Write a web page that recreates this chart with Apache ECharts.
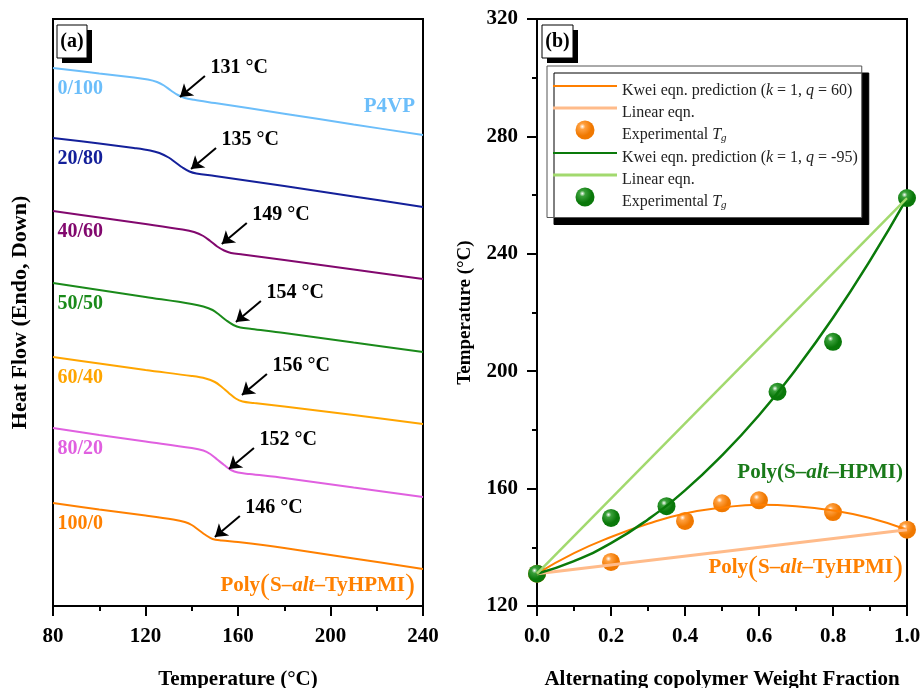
<!DOCTYPE html>
<html>
<head>
<meta charset="utf-8">
<script src="https://cdn.jsdelivr.net/npm/echarts@6/dist/echarts.min.js"></script>
<style>html,body{margin:0;padding:0;background:#fff}#main{width:922px;height:688px}</style>
</head>
<body>
<div id="main"></div>
<script>
// ---- panel (a): DSC traces, temperature (°C) vs heat flow (a.u.) ----
var t_0_100  = [80,100,115,121,125,128,131,134,137,141,150,180,210,240];
var hf_0_100 = [53.8,53.25,52.85,52.65,52.4,52.05,51.55,51.1,50.8,50.62,50.3,49.23,48.15,47.1];
var t_20_80  = [80,100,115,122,126,130,133,136,139,142,150,180,210,240];
var hf_20_80 = [46.8,46.25,45.8,45.55,45.3,44.85,44.35,43.85,43.45,43.25,43.0,42.0,40.95,39.9];
var t_40_60  = [80,100,120,136,141,145,148,151,154,157,162,180,210,240];
var hf_40_60 = [39.5,38.85,38.2,37.65,37.4,37.0,36.5,35.95,35.55,35.3,35.15,34.6,33.65,32.7];
var t_50_50  = [80,100,120,140,145,149,152,155,158,161,166,180,210,240];
var hf_50_50 = [32.3,31.6,30.9,30.2,29.95,29.6,29.1,28.55,28.1,27.85,27.7,27.3,26.35,25.4];
var t_60_40  = [80,100,120,140,146,150,153,156,159,162,167,180,210,240];
var hf_60_40 = [24.9,24.25,23.6,23.0,22.75,22.4,21.9,21.3,20.75,20.45,20.3,19.95,19.1,18.2];
var t_80_20  = [80,100,120,140,145,148,151,154,157,160,165,180,210,240];
var hf_80_20 = [17.8,17.1,16.45,15.8,15.55,15.2,14.65,14.1,13.6,13.35,13.2,12.8,11.85,10.9];
var t_100_0  = [80,100,120,132,137,140,143,146,149,153,160,180,210,240];
var hf_100_0 = [10.3,9.65,9.05,8.65,8.4,8.1,7.6,7.1,6.7,6.55,6.4,5.8,4.75,3.7];

var compLabels = ['0/100','20/80','40/60','50/50','60/40','80/20','100/0'];
var tgValues   = [131,135,149,154,156,152,146];
var arrowTipT  = [134.9,139.7,153,159.1,161.7,156.1,150];
var arrowTipHF = [50.9,43.7,36.2,28.4,21.1,13.7,6.9];

// ---- panel (b): Tg vs weight fraction ----
var wFrac      = [0,0.1,0.2,0.3,0.4,0.5,0.6,0.7,0.8,0.9,1.0];
var kweiOrange = [131,138,143.5,148,151.5,153.5,154.5,154,152.5,150,146];
var kweiGreen  = [131,135.3,141.4,149.5,159.4,171.3,185,200.7,218.2,237.7,259];
var linFrac    = [0,1];
var linOrange  = [131,146];
var linGreen   = [131,259];
var expFracOrange = [0,0.2,0.4,0.5,0.6,0.8,1.0];
var expOrange     = [131,135,149,155,156,152,146];
var expFracGreen  = [0,0.2,0.35,0.65,0.8,1.0];
var expGreen      = [131,150,154,193,210,259];

var legendNames = ['kweiO','linO','expO','kweiG','linG','expG'];
var legendTexts = [
  '{n|Kwei eqn. prediction (}{i|k}{n| = 1, }{i|q}{n| = 60)}',
  '{n|Linear eqn.}',
  '{n|Experimental }{i|T}{s|g}',
  '{n|Kwei eqn. prediction (}{i|k}{n| = 1, }{i|q}{n| = -95)}',
  '{n|Linear eqn.}',
  '{n|Experimental }{i|T}{s|g}'
];

var FONT = '"Liberation Serif", "Times New Roman", serif';
var curveColors = ['#6CBEFA','#14209A','#82086E','#1A8A1A','#FFA500','#E060E0','#FF8000'];
var ARROW_DT = 10.8, ARROW_DH = 2.1;

function zip(xs, ys){ return xs.map(function(x,i){ return [x, ys[i]]; }); }
function ball(c1, c2){
  return new echarts.graphic.RadialGradient(0.36, 0.32, 0.7, [
    {offset:0, color:'#ffffff'}, {offset:0.22, color:c1}, {offset:0.7, color:c2}, {offset:1, color:c2}
  ]);
}

var myChart = echarts.init(document.getElementById('main'));
var seriesList = [];

compLabels.forEach(function(name, i){
  var data = zip([t_0_100,t_20_80,t_40_60,t_50_50,t_60_40,t_80_20,t_100_0][i],
                 [hf_0_100,hf_20_80,hf_40_60,hf_50_50,hf_60_40,hf_80_20,hf_100_0][i]);
  var tail = [arrowTipT[i] + ARROW_DT, arrowTipHF[i] + ARROW_DH];
  seriesList.push({
    name: name, type: 'line', xAxisIndex: 0, yAxisIndex: 0,
    smooth: 0.35, symbol: 'none', data: data,
    lineStyle: {color: curveColors[i], width: 2},
    markLine: {
      silent: true, symbol: ['none','arrow'], symbolSize: 12,
      lineStyle: {color:'#000', width: 2, type: 'solid'},
      itemStyle: {color: '#000'},
      label: {show: false},
      data: [[{coord: tail}, {coord: [arrowTipT[i], arrowTipHF[i]]}]]
    },
    markPoint: {
      silent: true, symbol: 'circle', symbolSize: 1,
      itemStyle: {color: 'rgba(0,0,0,0)'},
      data: [
        {coord: tail, label: {show: true, position: 'right', distance: 5, offset: [0,-8],
          formatter: tgValues[i] + ' °C', color: '#000', fontSize: 20, fontWeight: 'bold', fontFamily: FONT}},
        {coord: [80, data[0][1]], label: {show: true, position: 'right', distance: 4, offset: [0,21],
          formatter: name, color: curveColors[i], fontSize: 20, fontWeight: 'bold', fontFamily: FONT}}
      ]
    }
  });
});

seriesList.push(
  {name: legendNames[0], type:'line', xAxisIndex:1, yAxisIndex:1, smooth:true, symbol:'none',
   data: zip(wFrac, kweiOrange), lineStyle:{color:'#FF7F00', width:2}, itemStyle:{color:'#FF7F00'}},
  {name: legendNames[1], type:'line', xAxisIndex:1, yAxisIndex:1, symbol:'none',
   data: zip(linFrac, linOrange), lineStyle:{color:'#FFBB8A', width:3}, itemStyle:{color:'#FFBB8A'}},
  {name: legendNames[2], type:'scatter', xAxisIndex:1, yAxisIndex:1, symbol:'circle', symbolSize:18,
   data: zip(expFracOrange, expOrange), itemStyle:{color: ball('#FFA040','#F07800'), opacity:1}},
  {name: legendNames[3], type:'line', xAxisIndex:1, yAxisIndex:1, smooth:true, symbol:'none',
   data: zip(wFrac, kweiGreen), lineStyle:{color:'#0A7A0A', width:2.5}, itemStyle:{color:'#0A7A0A'}},
  {name: legendNames[4], type:'line', xAxisIndex:1, yAxisIndex:1, symbol:'none',
   data: zip(linFrac, linGreen), lineStyle:{color:'#A2D96E', width:2.5}, itemStyle:{color:'#A2D96E'}},
  {name: legendNames[5], type:'scatter', xAxisIndex:1, yAxisIndex:1, symbol:'circle', symbolSize:18,
   data: zip(expFracGreen, expGreen), itemStyle:{color: ball('#3AA03A','#0A780A'), opacity:1}}
);

var axisLine = {show: true, onZero: false, lineStyle: {color:'#000', width: 2}};
var tickLabel = {color:'#000', fontSize: 21, fontWeight:'bold', fontFamily: FONT};
var nameStyle = {color:'#000', fontSize: 21, fontWeight:'bold', fontFamily: FONT};
// thin bar centred in a full 64x19 box, so every legend row has the same height
var lineIcon2 = 'path://M0,0L0.01,0M0,8.5H64V10.5H0ZM64,19L63.99,19';
var lineIcon3 = 'path://M0,0L0.01,0M0,8H64V11H0ZM64,19L63.99,19';

myChart.setOption({
  backgroundColor: '#fff',
  animation: false,
  grid: [
    {left: 53, top: 19, width: 370, height: 587, show: true, borderColor:'#000', borderWidth: 2, outerBoundsMode: 'none'},
    {left: 537, top: 19, width: 370, height: 587, show: true, borderColor:'#000', borderWidth: 2, outerBoundsMode: 'none'}
  ],
  xAxis: [
    {gridIndex: 0, type: 'value', min: 80, max: 240, interval: 40,
     axisLine: axisLine, axisTick: {length: 10, lineStyle: {color:'#000', width: 2}},
     minorTick: {show: true, splitNumber: 2, length: 5, lineStyle: {color:'#000', width: 2}},
     splitLine: {show: false}, axisLabel: Object.assign({margin: 20}, tickLabel),
     name: 'Temperature (°C)', nameLocation: 'middle', nameGap: 63, nameTextStyle: nameStyle},
    {gridIndex: 1, type: 'value', min: 0, max: 1, interval: 0.2,
     axisLine: axisLine, axisTick: {length: 10, lineStyle: {color:'#000', width: 2}},
     minorTick: {show: true, splitNumber: 2, length: 5, lineStyle: {color:'#000', width: 2}},
     splitLine: {show: false},
     axisLabel: Object.assign({margin: 20, formatter: function(v){ return v.toFixed(1); }}, tickLabel),
     name: 'Alternating copolymer Weight Fraction', nameLocation: 'middle', nameGap: 63, nameTextStyle: nameStyle}
  ],
  yAxis: [
    {gridIndex: 0, type: 'value', min: 0, max: 58.7,
     axisLine: axisLine, axisTick: {show: false}, axisLabel: {show: false}, splitLine: {show: false},
     name: 'Heat Flow (Endo, Down)', nameLocation: 'middle', nameGap: 22,
     nameTextStyle: Object.assign({}, nameStyle, {fontSize: 22})},
    {gridIndex: 1, type: 'value', min: 120, max: 320, interval: 40,
     axisLine: axisLine, axisTick: {length: 10, lineStyle: {color:'#000', width: 2}},
     minorTick: {show: true, splitNumber: 2, length: 5, lineStyle: {color:'#000', width: 2}},
     splitLine: {show: false}, axisLabel: Object.assign({margin: 19}, tickLabel),
     name: 'Temperature (°C)', nameLocation: 'middle', nameGap: 62,
     nameTextStyle: Object.assign({}, nameStyle, {fontSize: 19})}
  ],
  legend: {
    data: [
      {name: legendNames[0], icon: lineIcon2},
      {name: legendNames[1], icon: lineIcon3},
      {name: legendNames[2], icon: 'circle'},
      {name: legendNames[3], icon: lineIcon2},
      {name: legendNames[4], icon: lineIcon3},
      {name: legendNames[5], icon: 'circle'}
    ],
    orient: 'vertical', left: 547, top: 66,
    padding: [10.5, 4, 7, 6], itemWidth: 64, itemHeight: 19, itemGap: 0,
    backgroundColor: '#fff', borderColor: '#555', borderWidth: 1,
    shadowColor: '#000', shadowBlur: 0, shadowOffsetX: 7, shadowOffsetY: 7,
    selectedMode: false,
    formatter: function(name){ return legendTexts[legendNames.indexOf(name)]; },
    textStyle: {
      padding: [9, 0, 0, 0], color: '#222',
      rich: {
        n: {fontFamily: FONT, fontSize: 16, color: '#222', lineHeight: 18},
        i: {fontFamily: FONT, fontSize: 16, color: '#222', fontStyle: 'italic', lineHeight: 18},
        s: {fontFamily: FONT, fontSize: 11, color: '#222', fontStyle: 'italic', lineHeight: 11, padding: [7,0,0,0]}
      }
    }
  },
  graphic: [
    {type:'rect', shape:{x:62, y:30, width:30, height:33}, style:{fill:'#000'}, z: 10},
    {type:'rect', shape:{x:57, y:25, width:30, height:33}, style:{fill:'#fff', stroke:'#000', lineWidth:1}, z: 11},
    {type:'text', x:72, y:42, z: 12, style:{text:'(a)', fill:'#000', align:'center', verticalAlign:'middle',
      font:'bold 20px ' + FONT}},
    {type:'rect', shape:{x:547, y:30, width:31, height:33}, style:{fill:'#000'}, z: 10},
    {type:'rect', shape:{x:542, y:25, width:31, height:33}, style:{fill:'#fff', stroke:'#000', lineWidth:1}, z: 11},
    {type:'text', x:557.5, y:42, z: 12, style:{text:'(b)', fill:'#000', align:'center', verticalAlign:'middle',
      font:'bold 20px ' + FONT}},
    {type:'text', x:415, y:107, z: 12, style:{text:'P4VP', fill:'#6CBEFA', align:'right', verticalAlign:'middle',
      font:'bold 21px ' + FONT}},
    {type:'text', x:415, y:586, z: 12, style:{
      text:'{b|Poly}{p|(}{b|S–}{bi|alt}{b|–TyHPMI}{p|)}', align:'right', verticalAlign:'middle',
      rich:{b:{fontFamily:FONT, fontSize:21, fontWeight:'bold', fill:'#FF8000'},
            bi:{fontFamily:FONT, fontSize:21, fontWeight:'bold', fontStyle:'italic', fill:'#FF8000'},
            p:{fontFamily:FONT, fontSize:30, fill:'#FF8000'}}}},
    {type:'text', x:903, y:473, z: 12, style:{
      text:'{b|Poly(S–}{bi|alt}{b|–HPMI)}', align:'right', verticalAlign:'middle',
      rich:{b:{fontFamily:FONT, fontSize:21, fontWeight:'bold', fill:'#1A7A1A'},
            bi:{fontFamily:FONT, fontSize:21, fontWeight:'bold', fontStyle:'italic', fill:'#1A7A1A'}}}},
    {type:'text', x:903, y:568, z: 12, style:{
      text:'{b|Poly}{p|(}{b|S–}{bi|alt}{b|–TyHPMI}{p|)}', align:'right', verticalAlign:'middle',
      rich:{b:{fontFamily:FONT, fontSize:21, fontWeight:'bold', fill:'#FF8000'},
            bi:{fontFamily:FONT, fontSize:21, fontWeight:'bold', fontStyle:'italic', fill:'#FF8000'},
            p:{fontFamily:FONT, fontSize:30, fill:'#FF8000'}}}}
  ],
  series: seriesList
});
</script>
</body>
</html>
